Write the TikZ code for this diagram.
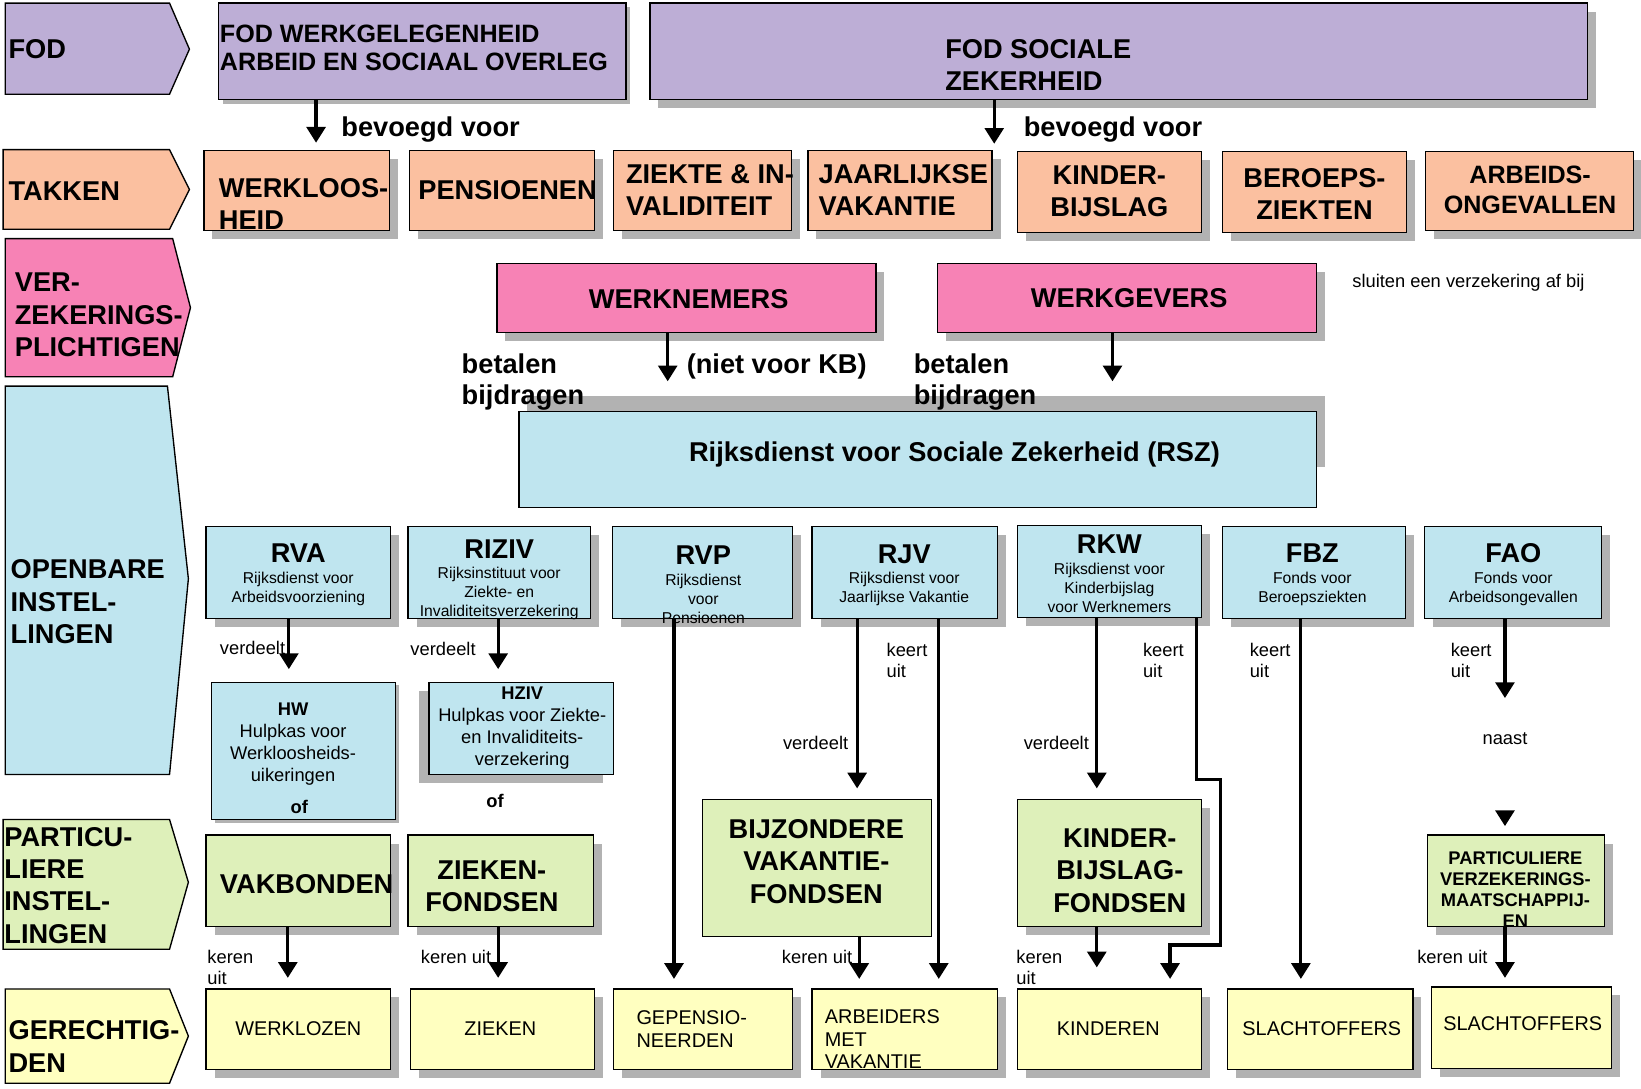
\documentclass[tikz,border=0pt]{standalone}
\usepackage{fontspec}
\setmainfont{Liberation Sans}
\usetikzlibrary{arrows.meta, calc, positioning}

\definecolor{fodpaars}{RGB}{189,174,214}
\definecolor{takzalm}{RGB}{251,192,160}
\definecolor{plichtroze}{RGB}{247,130,181}
\definecolor{openblauw}{RGB}{191,229,239}
\definecolor{partgroen}{RGB}{222,240,186}
\definecolor{gerechtgeel}{RGB}{255,255,192}
\definecolor{schaduwgrijs}{RGB}{178,178,178}

% kader met schaduw: [verschuiving]{naam}{kleur}{x1}{y1}{x2}{y2}
\newcommand{\kader}[7][8]{%
  \fill[schaduwgrijs] (#4+#1,#5+#1) rectangle (#6+#1,#7+#1);
  \node[kaderlijn, fill=#3, minimum width={(#6-#4)*1pt}, minimum height={(#7-#5)*1pt}] (#2) at ({(#4+#6)/2},{(#5+#7)/2}) {};
}

\begin{document}
\begin{tikzpicture}[x=1pt, y=-1pt,
   kaderlijn/.style={draw, rectangle, line width=1.3pt, inner sep=0pt},
   pijlvorm/.style={draw, line width=1.3pt},
   pijl/.style={line width=3pt, -{Triangle[length=15pt,width=18pt]}},
   groot/.style={font=\fontsize{26}{31}\selectfont\bfseries, inner sep=0pt, align=left},
   middel/.style={font=\fontsize{24}{27}\selectfont\bfseries, inner sep=0pt, align=left},
   sub/.style={font=\fontsize{15}{18}\selectfont, inner sep=0pt, align=center},
   uitleg/.style={font=\fontsize{17.5}{20}\selectfont, inner sep=0pt, align=left},
   hulp/.style={font=\fontsize{17.5}{21}\selectfont, inner sep=0pt, align=center},
   gerecht/.style={font=\fontsize{19}{22}\selectfont, inner sep=0pt, align=left}
  ]
\useasboundingbox (0,0) rectangle (1568,1040);

% linker kolom
\filldraw[pijlvorm, fill=fodpaars] (5,3) -- (162,3) -- (181,47) -- (162,90) -- (5,90) -- cycle;
\filldraw[pijlvorm, fill=takzalm] (3,143) -- (162,143) -- (181,181) -- (162,219) -- (3,219) -- cycle;
\filldraw[pijlvorm, fill=plichtroze] (5,228) -- (165,228) -- (182,294) -- (165,360) -- (5,360) -- cycle;
\filldraw[pijlvorm, fill=openblauw] (5,369) -- (160,369) -- (180,553) -- (162,740) -- (5,740) -- cycle;
\filldraw[pijlvorm, fill=partgroen] (3,783) -- (162,783) -- (180,843) -- (162,907) -- (3,907) -- cycle;
\filldraw[pijlvorm, fill=gerechtgeel] (5,945) -- (162,945) -- (180,990) -- (162,1035) -- (5,1035) -- cycle;

\node[groot, anchor=west] (t-fod) at (8,47) {FOD};
\node[groot, anchor=west] (t-takken) at (8,183) {TAKKEN};
\node[groot, anchor=west] (t-verz) at (14,301) {VER-\\ZEKERINGS-\\PLICHTIGEN};
\node[groot, anchor=west] (t-open) at (10,575) {OPENBARE\\INSTEL-\\LINGEN};
\node[groot, anchor=west] (t-part) at (4,846) {PARTICU-\\LIERE\\INSTEL-\\LINGEN};
\node[groot, anchor=west] (t-gerecht) at (8,1000) {GERECHTIG-\\DEN};

% FOD
\kader[4]{fodw}{fodpaars}{209}{3}{598}{95}
\kader{fodsz}{fodpaars}{621}{3}{1517}{95}
\node[middel, anchor=west] (t-fodw) at (210,45.5) {FOD WERKGELEGENHEID\\ARBEID EN SOCIAAL OVERLEG};
\node[groot, anchor=west, font=\fontsize{26}{30}\selectfont\bfseries] (t-fodsz) at (903,62) {FOD SOCIALE\\ZEKERHEID};

% takken
\kader{werkl}{takzalm}{195}{144}{372}{220}
\kader{pens}{takzalm}{391}{144}{568}{220}
\kader{ziekte}{takzalm}{586}{144}{756}{220}
\kader{jaarl}{takzalm}{772}{144}{948}{220}
\kader{kbijs}{takzalm}{972}{145}{1148}{222}
\kader{beroeps}{takzalm}{1168}{145}{1344}{222}
\kader{arbong}{takzalm}{1362}{145}{1561}{220}
\node[groot, anchor=west, font=\fontsize{26}{30}\selectfont\bfseries] (t-werkl) at (209,195) {WERKLOOS-\\HEID};
\node[groot] (t-pens) at (485,182) {PENSIOENEN};
\node[groot, anchor=west] (t-ziekte) at (598,181.5) {ZIEKTE \& IN-\\VALIDITEIT};
\node[groot, anchor=west] (t-jaarl) at (782,181.5) {JAARLIJKSE\\VAKANTIE};
\node[groot, align=center] (t-kbijs) at (1060,183) {KINDER-\\BIJSLAG};
\node[groot, align=center] (t-beroeps) at (1256,185.5) {BEROEPS-\\ZIEKTEN};
\node[middel, align=center, font=\fontsize{24}{29}\selectfont\bfseries] (t-arbong) at (1462,181.5) {ARBEIDS-\\ONGEVALLEN};

% verzekeringsplichtigen
\kader{wnem}{plichtroze}{475}{252}{837}{318}
\kader{wgev}{plichtroze}{896}{252}{1258}{318}
\node[groot] (t-wnem) at (658,286) {WERKNEMERS};
\node[groot] (t-wgev) at (1079,285) {WERKGEVERS};
\node[uitleg, anchor=west] (t-sluiten) at (1292,270) {sluiten een verzekering af bij};

% RSZ
\fill[schaduwgrijs] (504,378) rectangle (1266,446);
\kader[0]{rsz}{openblauw}{496}{393}{1258}{485}
\node[groot] (t-rsz) at (912,434) {Rijksdienst voor Sociale Zekerheid (RSZ)};
\node[groot, anchor=west, font=\fontsize{26}{30}\selectfont\bfseries] (t-betaal1) at (441,365) {betalen\\bijdragen};
\node[groot, anchor=west, font=\fontsize{26}{30}\selectfont\bfseries] (t-betaal2) at (873,365) {betalen\\bijdragen};
\node[groot, anchor=west] (t-nietkb) at (656,350) {(niet voor KB)};

% openbare instellingen
\kader{rva}{openblauw}{197}{503}{373}{591}
\kader{riziv}{openblauw}{390}{503}{564}{591}
\kader{rvp}{openblauw}{585}{503}{757}{591}
\kader{rjv}{openblauw}{776}{503}{953}{591}
\kader{rkw}{openblauw}{972}{502}{1148}{590}
\kader{fbz}{openblauw}{1168}{503}{1343}{591}
\kader{fao}{openblauw}{1361}{503}{1530}{591}
\node[groot] (t-rva) at (285,529) {RVA};
\node[sub] (s-rva) at (285,563) {Rijksdienst voor\\Arbeidsvoorziening};
\node[groot] (t-riziv) at (477,525) {RIZIV};
\node[sub] (s-riziv) at (477,567) {Rijksinstituut voor\\Ziekte- en\\Invaliditeitsverzekering};
\node[groot] (t-rvp) at (672,530) {RVP};
\node[sub] (s-rvp) at (672,572) {Rijksdienst\\voor\\Pensioenen};
\node[groot] (t-rjv) at (864,530) {RJV};
\node[sub] (s-rjv) at (864,563) {Rijksdienst voor\\Jaarlijkse Vakantie};
\node[groot] (t-rkw) at (1060,520) {RKW};
\node[sub] (s-rkw) at (1060,562) {Rijksdienst voor\\Kinderbijslag\\voor Werknemers};
\node[groot] (t-fbz) at (1254,529) {FBZ};
\node[sub] (s-fbz) at (1254,563) {Fonds voor\\Beroepsziekten};
\node[groot] (t-fao) at (1446,529) {FAO};
\node[sub] (s-fao) at (1446,563) {Fonds voor\\Arbeidsongevallen};

% hulpkassen
\kader[3]{hw}{openblauw}{202}{652}{378}{783}
\fill[schaduwgrijs] (400,660) rectangle (576,748);
\kader[0]{hziv}{openblauw}{410}{652}{586}{740}
\node[hulp] (t-hw) at (280,711) {\textbf{HW}\\Hulpkas voor\\Werkloosheids-\\uikeringen};
\node[hulp, font=\fontsize{17.5}{21}\selectfont\bfseries] (of-hw) at (286,771) {of};
\node[hulp] (t-hziv) at (499,696) {\textbf{HZIV}\\Hulpkas voor Ziekte-\\en Invaliditeits-\\verzekering};
\node[hulp, font=\fontsize{17.5}{21}\selectfont\bfseries] (of-hziv) at (473,765) {of};

% particuliere instellingen
\kader{vakb}{partgroen}{197}{798}{373}{885}
\kader{zfonds}{partgroen}{390}{798}{567}{885}
\kader[0]{bvf}{partgroen}{671}{764}{890}{895}
\kader{kbf}{partgroen}{972}{764}{1148}{885}
\kader{pvm}{partgroen}{1364}{798}{1533}{885}
\node[groot, anchor=west] (t-vakb) at (210,845) {VAKBONDEN};
\node[groot, align=center, font=\fontsize{26}{30}\selectfont\bfseries] (t-zfonds) at (470,847) {ZIEKEN-\\FONDSEN};
\node[groot, align=center] (t-bvf) at (780,823) {BIJZONDERE\\VAKANTIE-\\FONDSEN};
\node[groot, align=center] (t-kbf) at (1070,832) {KINDER-\\BIJSLAG-\\FONDSEN};
\node[hulp, font=\fontsize{17.5}{20}\selectfont\bfseries] (t-pvm) at (1448,850) {PARTICULIERE\\VERZEKERINGS-\\MAATSCHAPPIJ-\\EN};

% gerechtigden
\kader{wklz}{gerechtgeel}{197}{945}{373}{1022}
\kader{zieken}{gerechtgeel}{392}{945}{568}{1022}
\kader{gepens}{gerechtgeel}{586}{945}{757}{1022}
\kader{arbvak}{gerechtgeel}{776}{945}{953}{1022}
\kader{kinderen}{gerechtgeel}{972}{945}{1148}{1022}
\kader{slacht}{gerechtgeel}{1173}{945}{1350}{1022}
\kader{slachtpv}{gerechtgeel}{1368}{943}{1540}{1021}
\node[gerecht] (t-wklz) at (285,983) {WERKLOZEN};
\node[gerecht] (t-zieken) at (478,983) {ZIEKEN};
\node[gerecht, anchor=west] (t-gepens) at (608,983) {GEPENSIO-\\NEERDEN};
\node[gerecht, anchor=west, font=\fontsize{19}{21.5}\selectfont] (t-arbvak) at (788,993) {ARBEIDERS\\MET\\VAKANTIE};
\node[gerecht] (t-kinderen) at (1059,983) {KINDEREN};
\node[gerecht] (t-slacht) at (1263,983) {SLACHTOFFERS};
\node[gerecht] (t-slachtpv) at (1455,978) {SLACHTOFFERS};

% pijlen
\draw[pijl, shorten >=7pt] (302,0 |- fodw.south) -- (302,0 |- werkl.north);
\node[groot, anchor=west] (t-bev1) at (326,124) {bevoegd voor};
\draw[pijl, shorten >=7pt] (950,0 |- fodsz.south) -- (950,0 |- kbijs.north);
\node[groot, anchor=west] (t-bev2) at (978,124) {bevoegd voor};

\draw[pijl, shorten >=28pt] (638,0 |- wnem.south) -- (638,0 |- rsz.north);
\draw[pijl, shorten >=28pt] (1063,0 |- wgev.south) -- (1063,0 |- rsz.north);

\draw[pijl, shorten >=12pt] (276,0 |- rva.south) -- (276,0 |- hw.north);
\node[uitleg, anchor=west] (v-rva) at (210,619) {verdeelt};
\draw[pijl, shorten >=12pt] (476,0 |- riziv.south) -- (476,0 |- hziv.north);
\node[uitleg, anchor=west] (v-riziv) at (392,620) {verdeelt};

\draw[pijl, shorten >=9pt] (644,0 |- rvp.south) -- (644,0 |- gepens.north);
\draw[pijl, shorten >=10pt] (819,0 |- rjv.south) -- (819,0 |- bvf.north);
\node[uitleg, anchor=west] (v-rjv) at (748,710) {verdeelt};
\draw[pijl, shorten >=9pt] (897,0 |- rjv.south) -- (897,0 |- arbvak.north);
\node[uitleg, anchor=west] (k-rjv) at (847,631) {keert\\uit};

\draw[pijl, shorten >=10pt] (1048,0 |- rkw.south) -- (1048,0 |- kbf.north);
\node[uitleg, anchor=west] (v-rkw) at (978,710) {verdeelt};
\draw[pijl, shorten >=9pt] (1143,0 |- rkw.south) |- (1166,745) |- (1118,903) -- (1118,0 |- kinderen.north);
\node[uitleg, anchor=west] (k-rkw) at (1092,631) {keert\\uit};

\draw[pijl, shorten >=9pt] (1243,0 |- fbz.south) -- (1243,0 |- slacht.north);
\node[uitleg, anchor=west] (k-fbz) at (1194,631) {keert\\uit};

\coordinate (fao-eind) at (1438,667);
\coordinate (naast-pijl) at (1438,775);
\draw[pijl] (1438,0 |- fao.south) -- (fao-eind);
\node[uitleg, anchor=west] (k-fao) at (1386,631) {keert\\uit};
\node[uitleg] (t-naast) at (1438,706) {naast};
\draw[pijl, shorten >=8pt] (naast-pijl) -- (1438,0 |- pvm.north);

\draw[pijl, shorten >=10pt] (275,0 |- vakb.south) -- (275,0 |- wklz.north);
\node[uitleg, anchor=west] (k-vakb) at (198,924) {keren\\uit};
\draw[pijl, shorten >=10pt] (476,0 |- zfonds.south) -- (476,0 |- zieken.north);
\node[uitleg, anchor=west] (k-zfonds) at (402,914) {keren uit};
\draw[pijl, shorten >=9pt] (821,0 |- bvf.south) -- (821,0 |- arbvak.north);
\node[uitleg, anchor=west] (k-bvf) at (747,914) {keren uit};
\draw[pijl, shorten >=20pt] (1048,0 |- kbf.south) -- (1048,0 |- kinderen.north);
\node[uitleg, anchor=west] (k-kbf) at (971,924) {keren\\uit};
\draw[pijl, shorten >=8pt] (1438,0 |- pvm.south) -- (1438,0 |- slachtpv.north);
\node[uitleg, anchor=west] (k-pvm) at (1354,914) {keren uit};

\end{tikzpicture}
\end{document}
